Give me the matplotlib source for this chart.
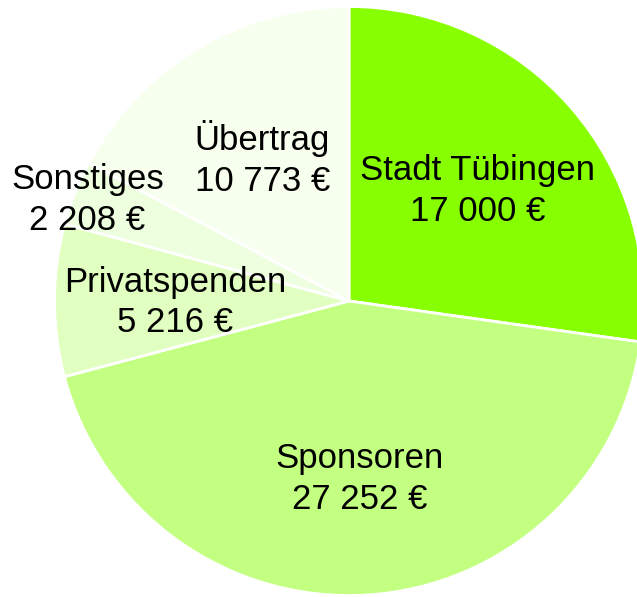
import numpy as np
import matplotlib.pyplot as plt

# -----------------------------
# Data
# -----------------------------
categories = ["Stadt Tübingen", "Sponsoren", "Privatspenden", "Sonstiges", "Übertrag"]
amounts = [17000, 27252, 5216, 2208, 10773]
amount_labels = ["17 000 €", "27 252 €", "5 216 €", "2 208 €", "10 773 €"]
colors = ["#88ff00", "#c3ff80", "#e0ffc0", "#eeffdf", "#f7ffee"]
label_dist = [0.58, 0.60, 0.59, 0.955, 0.57]

plt.rcParams['font.family'] = ['Liberation Sans', 'DejaVu Sans']

fig = plt.figure(figsize=(6.37, 5.97), dpi=100)
ax = fig.add_axes([0, 0, 1, 1])

# pie in pixel-like coordinates, clipped on the right like the original
cx, cy, r = 349, 296, 294.5
wedges, _ = ax.pie(amounts, colors=colors, startangle=90, counterclock=False,
                   center=(cx, cy), radius=r,
                   wedgeprops=dict(edgecolor="white", linewidth=2))

# labels in the middle of each wedge
for w, name, lab, d in zip(wedges, categories, amount_labels, label_dist):
    ang = np.deg2rad((w.theta1 + w.theta2) / 2)
    x = cx + d * r * np.cos(ang)
    y = cy + d * r * np.sin(ang) - 2
    ax.text(x, y, name + "\n" + lab, ha="center", va="center",
            fontsize=25, linespacing=1.3, color="black")

ax.set_xlim(0, 637)
ax.set_ylim(0, 597)
ax.set_aspect("equal")
ax.axis("off")

plt.savefig("out.png", dpi=100)
